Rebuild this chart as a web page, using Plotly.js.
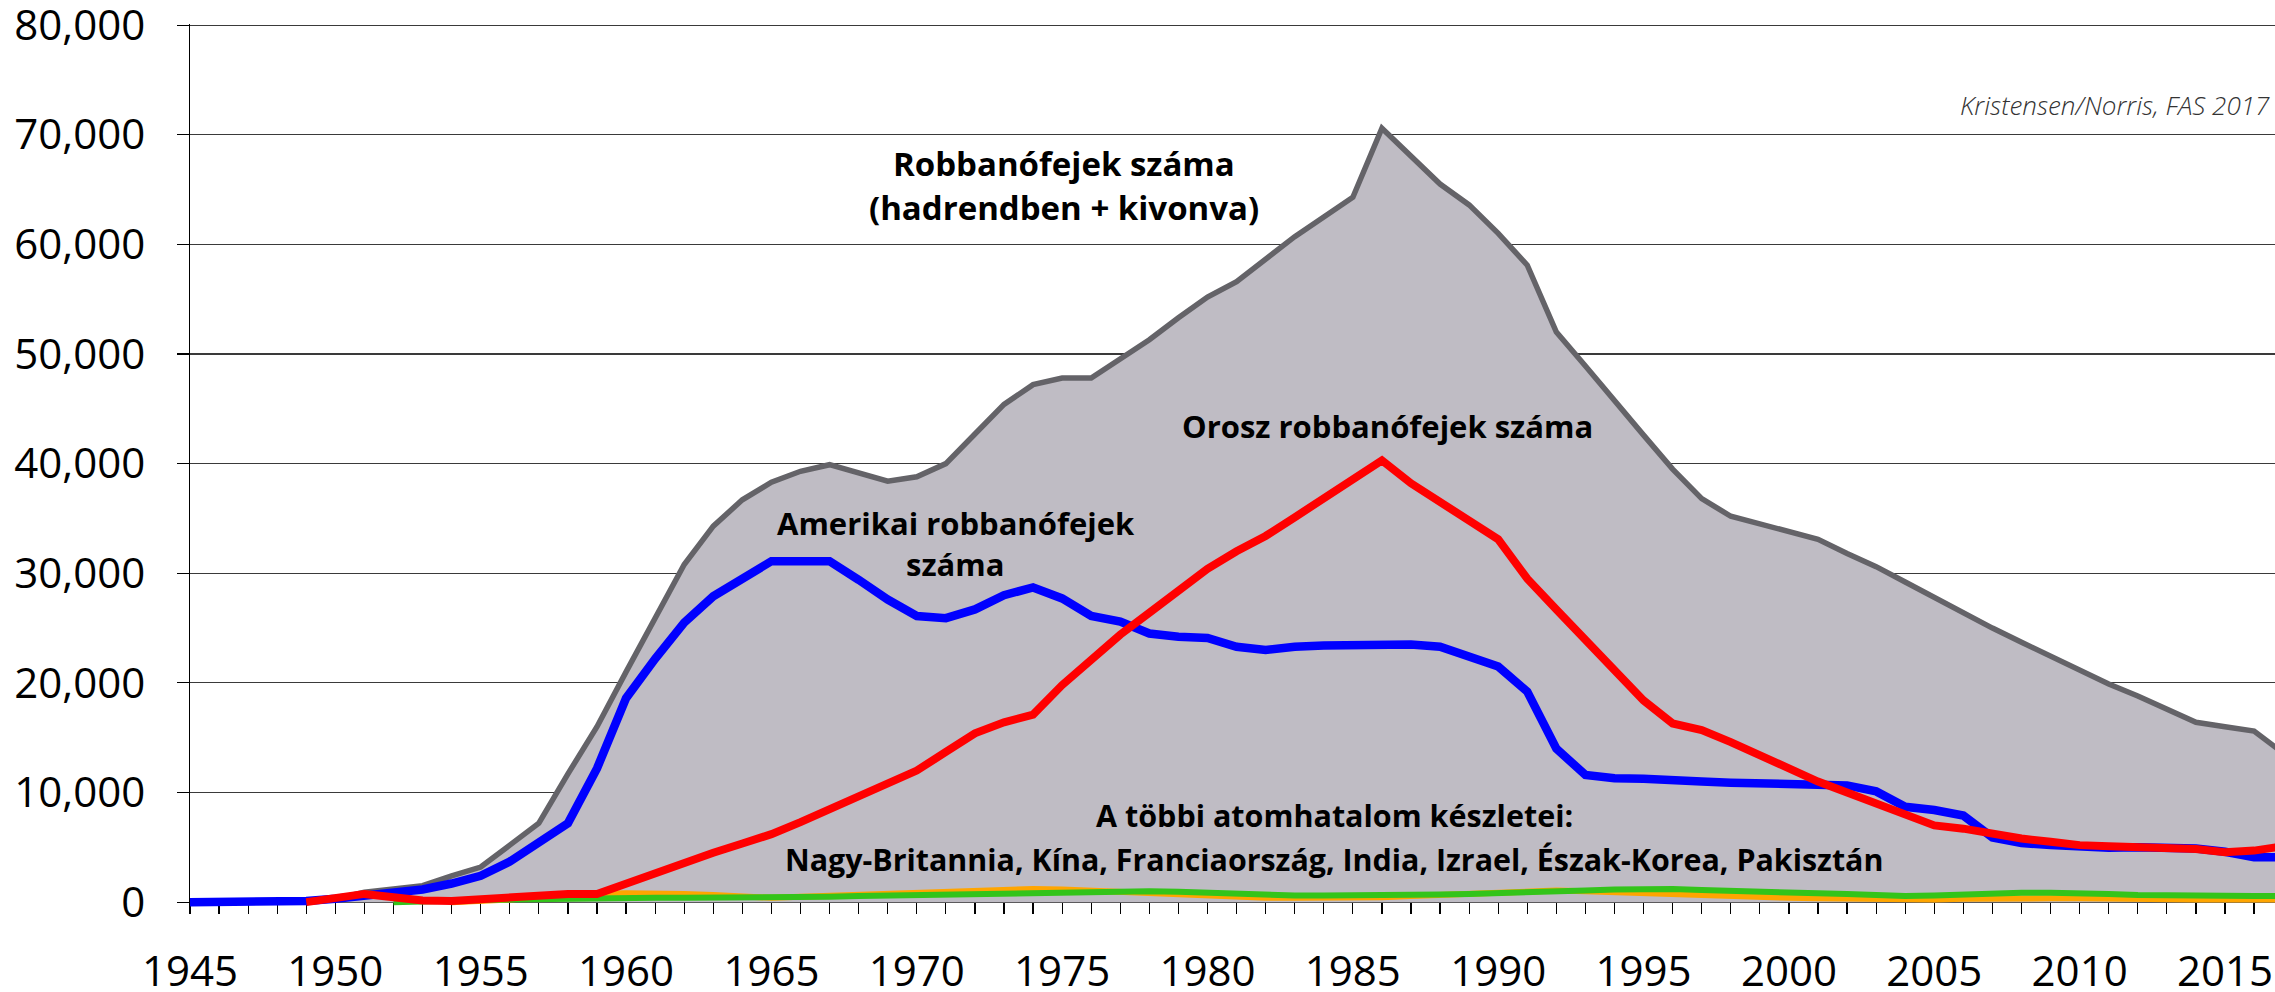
<!DOCTYPE html>
<html>
<head>
<meta charset="utf-8">
<script src="https://cdn.plot.ly/plotly-3.0.1.min.js"></script>
<style>
html,body{margin:0;padding:0;background:#fff;}
#chart{width:2275px;height:992px;}
</style>
</head>
<body>
<div id="chart"></div>
<script>
// ---- data ----
const years = [1945,1946,1947,1948,1949,1950,1951,1952,1953,1954,
  1955,1956,1957,1958,1959,1960,1961,1962,1963,1964,
  1965,1966,1967,1968,1969,1970,1971,1972,1973,1974,
  1975,1976,1977,1978,1979,1980,1981,1982,1983,1984,
  1985,1986,1987,1988,1989,1990,1991,1992,1993,1994,
  1995,1996,1997,1998,1999,2000,2001,2002,2003,2004,
  2005,2006,2007,2008,2009,2010,2011,2012,2013,2014,
  2015,2016,2017];

// total warheads (stockpiled + retired)
const totalWarheads = [0,0,0,0,50,300,900,1200,1500,2400,
  3200,5200,7200,11700,16000,21000,26000,30800,34300,36700,
  38300,39300,39900,39200,38400,38800,40000,42700,45400,47200,
  47800,47800,49500,51300,53300,55200,56600,58700,60700,62500,
  64300,70600,68000,65500,63600,61000,58100,52000,48900,45700,
  42600,39500,36800,35200,34500,33800,33100,31800,30600,29200,
  27800,26300,25000,23700,22400,21200,19900,18800,17600,16400,
  16000,15600,13600];

// United States
const usaWarheads = [0,0,0,0,100,300,600,900,1150,1700,
  2400,3700,5500,7200,12200,18600,22200,25500,27900,29400,
  31100,31100,31100,29400,27600,26100,25900,26700,28000,28700,
  27700,26100,25600,24500,24200,24100,23300,23000,23300,23400,
  23400,23400,23500,23300,22300,21500,19200,14000,11600,11300,
  11250,11200,11000,10900,10800,10750,10700,10650,10100,8700,
  8400,7900,5900,5400,5200,5000,4950,5000,5000,4900,
  4600,4100,4100];

// Soviet Union / Russia
const russiaWarheads = [null,null,null,null,0,400,750,450,150,100,
  300,450,650,750,750,1700,2700,3650,4500,5350,
  6200,7300,8500,9600,10800,12000,13700,15400,16400,17100,
  19800,22100,24400,26400,28500,30400,32000,33400,35100,36800,
  38600,40300,38200,36400,34800,33100,29500,26700,24000,21200,
  18400,16300,15700,14600,13400,12200,11000,10000,9000,8000,
  7000,6700,6200,5800,5500,5200,5100,5000,4950,4850,
  4550,4700,5100];

// other nuclear powers (two thin series)
const otherOrange = [null,null,null,null,null,null,null,null,null,0,
  100,250,450,650,750,800,800,750,650,500,
  400,500,600,700,800,900,1000,1100,1150,1200,
  1150,1050,900,750,650,550,450,400,400,400,
  400,450,550,650,750,900,1000,1050,1000,900,
  800,700,600,500,450,400,350,300,250,250,
  250,300,350,350,350,350,300,250,250,250,
  250,250,250];

const otherGreen = [null,null,null,null,null,null,null,0,100,150,
  200,250,300,350,400,400,400,400,400,400,
  400,450,500,550,600,650,700,750,800,850,
  900,950,1000,1000,950,850,750,650,600,600,
  600,600,650,700,750,800,850,950,1050,1150,
  1200,1200,1100,1000,900,850,800,750,650,550,
  600,700,850,850,850,850,750,650,600,550,
  550,550,550];

const yTicks = [0,10000,20000,30000,40000,50000,60000,70000,80000];

// ---- traces ----
const traces = [
  {x: years, y: totalWarheads, type: 'scatter', mode: 'lines', fill: 'tozeroy',
   fillcolor: '#BFBCC4', line: {color: '#646368', width: 5.5}},
  {x: years, y: usaWarheads, type: 'scatter', mode: 'lines',
   line: {color: '#0000FF', width: 8.5}},
  {x: years, y: otherOrange, type: 'scatter', mode: 'lines',
   line: {color: '#FFA500', width: 6}},
  {x: years, y: otherGreen, type: 'scatter', mode: 'lines',
   line: {color: '#33C41A', width: 6}},
  {x: years, y: russiaWarheads, type: 'scatter', mode: 'lines',
   line: {color: '#FF0000', width: 8}}
];

const labelFont = {family: 'Open Sans', size: 31, color: '#000', weight: 700};

const layout = {
  width: 2275, height: 992,
  margin: {l: 190, r: 0, t: 24, b: 80, pad: 0},
  paper_bgcolor: '#fff', plot_bgcolor: '#fff',
  showlegend: false,
  hovermode: false,
  xaxis: {
    range: [1945, 2016.72],
    anchor: 'free', position: 0.01111,
    tick0: 1945, dtick: 5,
    ticks: 'outside', ticklen: 11, tickwidth: 1.2, tickcolor: '#000',
    minor: {dtick: 1, tick0: 1945, ticks: 'outside', ticklen: 11, tickwidth: 1.2, tickcolor: '#000', showgrid: false},
    showgrid: false, zeroline: false,
    showline: false,
    tickfont: {family: 'Open Sans', size: 42, color: '#000'},
    ticklabelstandoff: 21,
    ticklabeloverflow: 'allow',
    layer: 'below traces'
  },
  yaxis: {
    range: [-900, 80100],
    tickvals: yTicks,
    tickformat: ',d',
    ticks: 'outside', ticklen: 12, tickwidth: 1.2, tickcolor: '#000',
    showgrid: true, gridcolor: '#3a3a3a', gridwidth: 1.2,
    zeroline: false,
    showline: true, linecolor: '#000', linewidth: 1.3,
    tickfont: {family: 'Open Sans', size: 42, color: '#000'},
    ticklabelstandoff: 23,
    ticklabeloverflow: 'allow',
    layer: 'below traces'
  },
  annotations: [
    {x: 1975.07, y: 67400, xref: 'x', yref: 'y', text: 'Robbanófejek száma', showarrow: false,
     xanchor: 'center', yanchor: 'middle', font: Object.assign({}, labelFont, {size: 33})},
    {x: 1975.07, y: 63350, xref: 'x', yref: 'y', text: '(hadrendben + kivonva)', showarrow: false,
     xanchor: 'center', yanchor: 'middle', font: Object.assign({}, labelFont, {size: 33})},
    {x: 1986.18, y: 43458, xref: 'x', yref: 'y', text: 'Orosz robbanófejek száma', showarrow: false,
     xanchor: 'center', yanchor: 'middle', font: labelFont},
    {x: 1971.35, y: 34600, xref: 'x', yref: 'y', text: 'Amerikai robbanófejek', showarrow: false,
     xanchor: 'center', yanchor: 'middle', font: labelFont},
    {x: 1971.32, y: 30817, xref: 'x', yref: 'y', text: 'száma', showarrow: false,
     xanchor: 'center', yanchor: 'middle', font: labelFont},
    {x: 1984.37, y: 7920, xref: 'x', yref: 'y', text: 'A többi atomhatalom készletei:', showarrow: false,
     xanchor: 'center', yanchor: 'middle', font: Object.assign({}, labelFont, {size: 30.5})},
    {x: 1984.34, y: 3905, xref: 'x', yref: 'y', text: 'Nagy-Britannia, Kína, Franciaország, India, Izrael, Észak-Korea, Pakisztán', showarrow: false,
     xanchor: 'center', yanchor: 'middle', font: Object.assign({}, labelFont, {size: 30.4})},
    {x: 1, y: 72700, xref: 'paper', yref: 'y', xshift: -3, text: 'Kristensen/Norris, FAS 2017', showarrow: false,
     xanchor: 'right', yanchor: 'middle', font: {family: 'Open Sans', size: 26, color: '#333', style: 'italic', weight: 300}}
  ]
};

Plotly.newPlot('chart', traces, layout, {displayModeBar: false, staticPlot: true});
</script>
</body>
</html>
